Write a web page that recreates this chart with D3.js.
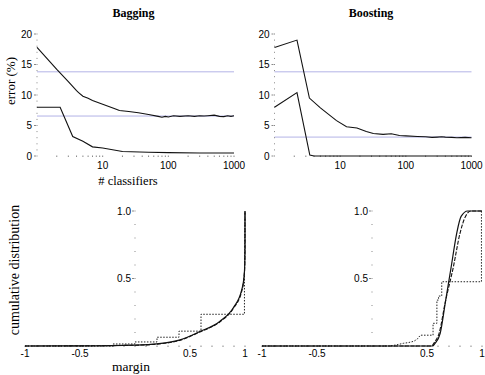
<!DOCTYPE html>
<html>
<head>
<meta charset="utf-8">
<script src="https://cdn.jsdelivr.net/npm/d3@7"></script>
<style>
  html, body { margin: 0; padding: 0; background: #fff; }
  svg { display: block; }
</style>
</head>
<body>
<script>
// ---------- DATA ----------
const panelTitles = ["Bagging", "Boosting"];
const errTicks = [0, 5, 10, 15, 20];
const logTicks = [10, 100, 1000];
const marginTicks = [-1, -0.5, 0.5, 1];
const cumTicks = [0.5, 1.0];
const cumTickLabels = ["0.5", "1.0"];

// test error / training error vs number of classifiers (x = #classifiers, y = error %)
const baggingTest = [[1,17.8],[2,14.2],[3,12.2],[4,10.7],[4.3,10.4],[5,9.8],[6,9.45],[7,9.1],[10,8.5],[15,7.8],[18,7.45],[25,7.3],[35,7.1],[50,6.8],[70,6.5],[80,6.35],[90,6.5],[100,6.4],[120,6.6],[150,6.5],[200,6.6],[250,6.5],[300,6.6],[350,6.55],[400,6.6],[500,6.7],[600,6.5],[700,6.45],[800,6.6],[900,6.5],[1000,6.6]];
const baggingTrain = [[1,8.0],[2.25,8.0],[3.5,3.2],[5,2.4],[7,1.5],[10,1.3],[20,0.75],[50,0.62],[100,0.55],[300,0.5],[1000,0.5]];
const boostingTest = [[1,17.8],[2.2,19.0],[3.4,9.5],[5,7.9],[8.8,5.8],[12.5,4.8],[18,4.6],[25,4.0],[32,3.7],[45,3.55],[60,3.65],[80,3.35],[100,3.3],[150,3.2],[200,3.15],[250,3.05],[300,3.1],[350,3.15],[400,3.1],[500,3.05],[600,3.0],[800,3.05],[1000,3.0]];
const boostingTrain = [[1,8.0],[2.2,10.4],[3.45,0.15],[4,0],[1000,0]];
const baggingRefLines = [13.8, 6.55];
const boostingRefLines = [13.8, 3.1];

// cumulative margin distributions: [margin, cumulative fraction]
const baggingM5 = [[-1,0],[-0.2,0],[-0.2,0.015],[0,0.015],[0,0.03],[0.2,0.03],[0.2,0.065],[0.4,0.065],[0.4,0.11],[0.6,0.11],[0.6,0.235],[0.995,0.235],[0.995,0.5],[1,1]];
const baggingM100 = [[-1,0],[-0.5,0.001],[0,0.006],[0.2,0.014],[0.41,0.043],[0.59,0.104],[0.77,0.178],[0.894,0.278],[0.97,0.405],[0.99,0.5],[0.998,0.6],[1,0.7],[1,1]];
const baggingM1000 = [[-1,0],[-0.5,0.001],[0,0.007],[0.2,0.016],[0.41,0.045],[0.59,0.107],[0.77,0.182],[0.894,0.283],[0.97,0.415],[0.991,0.51],[0.998,0.61],[1,0.72],[1,1]];
const boostingM5 = [[-1,0],[0.16,0],[0.22,0.008],[0.285,0.02],[0.33,0.025],[0.38,0.035],[0.41,0.05],[0.44,0.08],[0.555,0.08],[0.555,0.168],[0.59,0.168],[0.59,0.34],[0.605,0.34],[0.605,0.37],[0.634,0.37],[0.634,0.476],[0.995,0.476],[0.995,1.0],[1,1.0]];
const boostingM100 = [[-1,0],[0.54,0],[0.57,0.03],[0.61,0.094],[0.665,0.32],[0.74,0.587],[0.80,0.835],[0.85,0.96],[0.9,1.0],[1,1.0]];
const boostingM1000 = [[-1,0],[0.55,0],[0.573,0.02],[0.62,0.094],[0.67,0.34],[0.72,0.587],[0.77,0.835],[0.81,0.96],[0.87,1.0],[1,1.0]];

// ---------- DRAW ----------
const W = 485, H = 375;
const svg = d3.select("body").append("svg").attr("width", W).attr("height", H);
const sans = "'Liberation Sans', Arial, sans-serif";
const serif = "'Liberation Serif', 'Times New Roman', 'DejaVu Serif', serif";
const refColor = "#b3b3e6";
const dotColor = "#888";

const yErr = d3.scaleLinear().domain([0, 20]).range([156, 34]);
const yCum = d3.scaleLinear().domain([0, 1]).range([346, 211]);
const topX = [
  d3.scaleLog().domain([1, 1000]).range([37, 234]),
  d3.scaleLog().domain([1, 1000]).range([274.5, 471.5])
];
const botX = [
  d3.scaleLinear().domain([-1, 1]).range([25, 245]),
  d3.scaleLinear().domain([-1, 1]).range([262, 482])
];

const topSeries = [
  { test: baggingTest, train: baggingTrain, ref: baggingRefLines },
  { test: boostingTest, train: boostingTrain, ref: boostingRefLines }
];
const botSeries = [
  { m5: baggingM5, m100: baggingM100, m1000: baggingM1000 },
  { m5: boostingM5, m100: boostingM100, m1000: boostingM1000 }
];

function drawTop(i) {
  const x = topX[i];
  const s = topSeries[i];
  const g = svg.append("g");
  const x0 = x.range()[0], x1 = x.range()[1];

  g.append("text").attr("x", (x0 + x1) / 2 - 2).attr("y", 17)
    .attr("text-anchor", "middle").attr("font-family", serif)
    .attr("font-weight", "bold").attr("font-size", 12).text(panelTitles[i]);

  g.selectAll(".ref").data(s.ref).enter().append("line")
    .attr("x1", x0).attr("x2", x1)
    .attr("y1", d => yErr(d)).attr("y2", d => yErr(d))
    .attr("stroke", refColor).attr("stroke-width", 1);

  g.selectAll(".yd").data(d3.range(0, 21)).enter().append("rect")
    .attr("x", x0 - 0.5).attr("y", d => yErr(d) - 0.5).attr("width", 1).attr("height", 1)
    .attr("fill", dotColor);
  const yt = g.selectAll(".yt").data(errTicks).enter().append("g");
  yt.append("line").attr("x1", x0 - 3).attr("x2", x0 - 1)
    .attr("y1", d => yErr(d)).attr("y2", d => yErr(d)).attr("stroke", dotColor).attr("stroke-width", 1);
  yt.append("text").attr("x", x0 - 5).attr("y", d => yErr(d)).attr("dy", "0.35em")
    .attr("text-anchor", "end").attr("font-family", sans).attr("font-size", 10).text(d => d);

  const minors = [];
  [1, 10, 100].forEach(dec => { for (let k = 2; k <= 9; k++) minors.push(k * dec); });
  g.selectAll(".xd").data(minors.concat(logTicks)).enter().append("rect")
    .attr("x", d => x(d) - 0.5).attr("y", yErr(0) - 0.5).attr("width", 1).attr("height", 1.5)
    .attr("fill", dotColor);
  g.selectAll(".xl").data(logTicks).enter().append("text")
    .attr("x", d => x(d)).attr("y", 168.5).attr("text-anchor", "middle")
    .attr("font-family", sans).attr("font-size", 10).text(d => d);

  const line = d3.line().x(d => x(d[0])).y(d => yErr(d[1]));
  [s.test, s.train].forEach(data => {
    g.append("path").datum(data).attr("d", line).attr("fill", "none")
      .attr("stroke", "#111").attr("stroke-width", 1.1);
  });
}

function drawBottom(i) {
  const x = botX[i];
  const s = botSeries[i];
  const g = svg.append("g");
  const ax = x(0);

  g.selectAll(".yd").data(d3.range(1, 11).map(k => k / 10)).enter().append("rect")
    .attr("x", ax - 0.5).attr("y", d => yCum(d) - 0.5).attr("width", 1).attr("height", 1)
    .attr("fill", dotColor);
  const yt = g.selectAll(".yt").data(cumTicks).enter().append("g");
  yt.append("line").attr("x1", ax - 3).attr("x2", ax - 1)
    .attr("y1", d => yCum(d)).attr("y2", d => yCum(d)).attr("stroke", dotColor);
  yt.append("text").attr("x", ax - 4).attr("y", d => yCum(d)).attr("dy", "0.35em")
    .attr("text-anchor", "end").attr("font-family", sans).attr("font-size", 10)
    .text((d, j) => cumTickLabels[j]);

  g.selectAll(".xd").data(d3.range(-10, 11).map(k => k / 10)).enter().append("rect")
    .attr("x", d => x(d) - 0.5).attr("y", yCum(0) - 0.5).attr("width", 1).attr("height", 1.5)
    .attr("fill", dotColor);
  g.selectAll(".xl").data(marginTicks).enter().append("text")
    .attr("x", d => x(d)).attr("y", 357).attr("text-anchor", "middle")
    .attr("font-family", sans).attr("font-size", 10).text(d => d);

  const stepLine = d3.line().x(d => x(d[0])).y(d => yCum(d[1]));
  // smooth curve for distinct-x points, then straight segment for any vertical tail
  function smoothPath(data) {
    const head = [];
    let k = 0;
    while (k < data.length && (head.length === 0 || data[k][0] > head[head.length - 1][0])) {
      head.push(data[k]); k++;
    }
    const tail = [head[head.length - 1]].concat(data.slice(k));
    const p1 = d3.line().curve(d3.curveMonotoneX).x(d => x(d[0])).y(d => yCum(d[1]))(head);
    const p2 = tail.length > 1 ? stepLine(tail).replace(/^M/, "L") : "";
    return p1 + p2;
  }

  g.append("path").datum(s.m5).attr("d", stepLine).attr("fill", "none")
    .attr("stroke", "#222").attr("stroke-width", 1).attr("stroke-dasharray", "1.5,1.5");
  g.append("path").datum(s.m100).attr("d", smoothPath).attr("fill", "none")
    .attr("stroke", "#111").attr("stroke-width", 1.1).attr("stroke-dasharray", "4,1.5");
  g.append("path").datum(s.m1000).attr("d", smoothPath).attr("fill", "none")
    .attr("stroke", "#111").attr("stroke-width", 1.2);
}

drawTop(0); drawTop(1);
drawBottom(0); drawBottom(1);

svg.append("text").attr("transform", "translate(15,81) rotate(-90)")
  .attr("text-anchor", "middle").attr("font-family", serif).attr("font-size", 13).text("error (%)");
svg.append("text").attr("x", 128).attr("y", 185).attr("text-anchor", "middle")
  .attr("font-family", serif).attr("font-size", 12.5).text("# classifiers");
svg.append("text").attr("transform", "translate(19,270) rotate(-90)")
  .attr("text-anchor", "middle").attr("font-family", serif).attr("font-size", 14).text("cumulative distribution");
svg.append("text").attr("x", 131).attr("y", 371).attr("text-anchor", "middle")
  .attr("font-family", serif).attr("font-size", 13.5).text("margin");
</script>
</body>
</html>
